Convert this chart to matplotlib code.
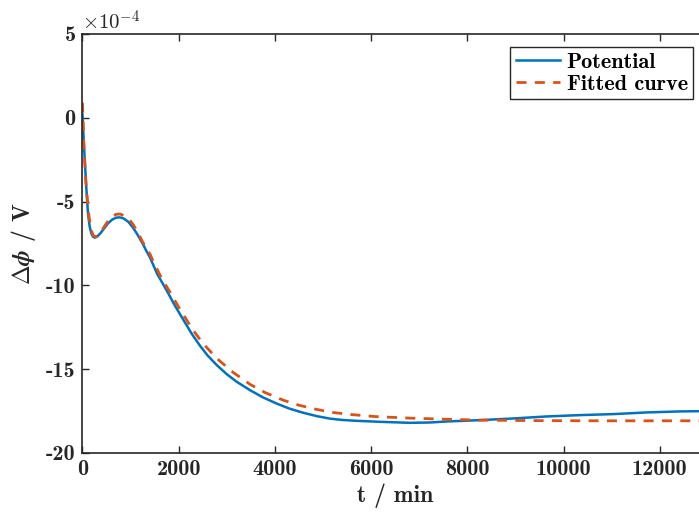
import numpy as np
import matplotlib.pyplot as plt

plt.rcParams['mathtext.fontset'] = 'cm'
plt.rcParams['axes.unicode_minus'] = False

# Datos (valores en unidades de 1e-4 V)
t_pot = [0, 20, 45, 80, 115, 150, 184, 220, 253, 300, 370, 450, 530, 620, 700,
         773, 850, 950, 1050, 1150, 1250, 1327, 1403, 1550, 1750, 1920, 2096,
         2270, 2443, 2600, 2790, 3000, 3206, 3482, 3750, 4037, 4300, 4590, 4869,
         5146, 5400, 5700, 6185, 6809, 7225, 7571, 8264, 8956, 9650, 10343,
         11035, 11730, 12422, 13000]
v_pot = [0.2, -1.0, -2.4, -4.2, -5.73, -6.5, -6.9, -7.1, -7.15, -7.1, -6.9, -6.6,
         -6.3, -6.07, -5.96, -5.94, -6.0, -6.2, -6.55, -7.0, -7.5, -7.94, -8.33,
         -9.3, -10.3, -11.2, -12.05, -12.88, -13.6, -14.18, -14.75, -15.3,
         -15.75, -16.25, -16.68, -17.05, -17.35, -17.6, -17.8, -17.95, -18.03,
         -18.08, -18.14, -18.2, -18.18, -18.12, -18.04, -17.94, -17.82, -17.74,
         -17.68, -17.58, -17.52, -17.5]

t_fit = [0, 30, 70, 121, 170, 225, 280, 350, 430, 520, 610, 700, 780, 870, 970,
         1060, 1150, 1250, 1335, 1403, 1500, 1650, 1819, 2000, 2270, 2500, 2790,
         3136, 3482, 3800, 4175, 4500, 4869, 5200, 5561, 6100, 6809, 7500, 8264,
         9500, 11000, 13000]
v_fit = [0.9, -1.7, -3.8, -5.55, -6.6, -7.04, -7.1, -6.95, -6.6, -6.2, -5.9,
         -5.76, -5.74, -5.85, -6.05, -6.4, -6.85, -7.4, -7.85, -8.13, -8.75,
         -9.6, -10.4, -11.3, -12.55, -13.45, -14.35, -15.2, -15.9, -16.4, -16.85,
         -17.15, -17.4, -17.58, -17.7, -17.83, -17.92, -17.98, -18.04, -18.07,
         -18.08, -18.08]

xticks = [0, 2000, 4000, 6000, 8000, 10000, 12000]
yticks = [-20, -15, -10, -5, 0, 5]

fig = plt.figure(figsize=(6.99, 5.22), dpi=100)
ax = fig.add_axes([0.118, 0.1322, 0.8946, 0.8027])

ax.plot(t_pot, v_pot, color='#0072BD', lw=1.8, label='Potential')
ax.plot(t_fit, v_fit, color='#D95319', lw=2.0, dashes=(3.6, 3.0), label='Fitted curve')

ax.set_xlim(0, 13000)
ax.set_ylim(-20, 5)
ax.set_xticks(xticks)
ax.set_xticklabels([str(v) for v in xticks], family='cmb10', fontsize=16)
ax.set_yticks(yticks)
ax.set_yticklabels([str(v) for v in yticks], family='cmb10', fontsize=16)
ax.tick_params(direction='in', length=5, width=1, colors='#262626',
               top=True, right=True, pad=5)
for s in ax.spines.values():
    s.set_color('#262626')
    s.set_linewidth(1.2)

ax.set_xlabel('t / min', family='cmb10', fontsize=17, color='#262626', labelpad=3)
ax.set_ylabel(r'$\mathbf{\Delta}\boldsymbol{\phi}$' + ' / V', family='cmb10',
              fontsize=17, color='#262626', labelpad=6)

fig.text(0.118, 0.935, r'$\times10^{-4}$', fontsize=15, color='#262626',
         ha='left', va='bottom')

leg = ax.legend(loc='upper right', bbox_to_anchor=(0.992, 0.91),
                bbox_transform=fig.transFigure, borderaxespad=0,
                prop={'family': 'cmb10', 'size': 16}, fancybox=False,
                framealpha=1, edgecolor='#262626', handlelength=2.0,
                handletextpad=0.3, borderpad=0.25, labelspacing=0.1)
leg.get_frame().set_linewidth(1.0)

fig.savefig('out.png', dpi=100)
